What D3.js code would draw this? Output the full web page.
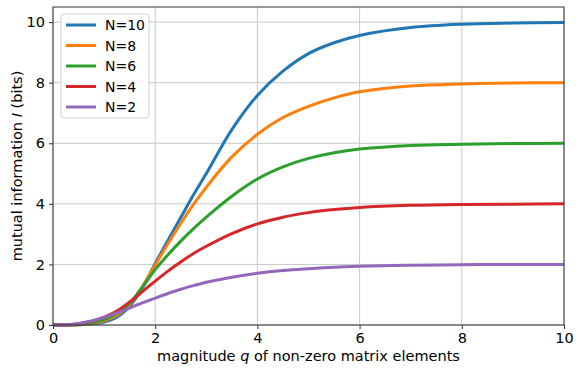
<!DOCTYPE html>
<html lang="en">
<head>
<meta charset="utf-8">
<title>Mutual information vs magnitude q</title>
<script src="https://cdn.jsdelivr.net/npm/d3@7"></script>
<style>
  body { margin: 0; background: #fff; }
  text { font-family: "DejaVu Sans", sans-serif; }
</style>
</head>
<body>
<script>
// values
var qValues = [0, 0.25, 0.5, 0.75, 1, 1.25, 1.5, 1.75, 2, 2.25, 2.5, 2.75, 3, 3.5, 4, 4.5, 5, 5.5, 6, 7, 8, 9, 10];
var seriesNames = ["N=10", "N=8", "N=6", "N=4", "N=2"];
var infoN10 = [0, 0.001, 0.005, 0.03, 0.1, 0.26, 0.62, 1.22, 2.03, 2.8, 3.55, 4.3, 5.0, 6.45, 7.58, 8.38, 8.96, 9.32, 9.56, 9.82, 9.93, 9.97, 9.99];
var infoN8  = [0, 0.001, 0.008, 0.045, 0.14, 0.32, 0.68, 1.28, 1.98, 2.68, 3.35, 3.98, 4.55, 5.55, 6.3, 6.85, 7.22, 7.5, 7.7, 7.89, 7.96, 7.99, 8.0];
var infoN6  = [0, 0.002, 0.015, 0.07, 0.18, 0.38, 0.72, 1.25, 1.83, 2.32, 2.77, 3.18, 3.56, 4.25, 4.82, 5.22, 5.5, 5.69, 5.81, 5.93, 5.97, 5.99, 6.0];
var infoN4  = [0, 0.004, 0.04, 0.12, 0.26, 0.46, 0.76, 1.1, 1.45, 1.78, 2.08, 2.36, 2.6, 3.02, 3.34, 3.56, 3.71, 3.81, 3.88, 3.95, 3.98, 3.99, 4.0];
var infoN2  = [0, 0.006, 0.05, 0.13, 0.25, 0.4, 0.56, 0.73, 0.89, 1.04, 1.18, 1.3, 1.41, 1.58, 1.71, 1.8, 1.86, 1.91, 1.94, 1.97, 1.99, 2.0, 2.0];
var xTicks = [0, 2, 4, 6, 8, 10];
var yTicks = [0, 2, 4, 6, 8, 10];

var w = 582;
var h = 375;
var margin = {top: 7, right: 18, bottom: 50, left: 53};

var colors = ["#1f77b4", "#ff7f0e", "#2ca02c", "#d62728", "#9467bd"];
var allSeries = [infoN10, infoN8, infoN6, infoN4, infoN2];

var svg = d3.select('body')
            .append('svg')
            .attr('width', w)
            .attr('height', h);

var x = d3.scaleLinear()
          .domain([0, 10])
          .range([margin.left, w - margin.right]);

var y = d3.scaleLinear()
          .domain([0, 10.5])
          .range([h - margin.bottom, margin.top]);

// grid
svg.append('g')
   .selectAll('line')
   .data(xTicks)
   .enter()
   .append('line')
   .attr('x1', function(d) { return x(d); })
   .attr('x2', function(d) { return x(d); })
   .attr('y1', y(0))
   .attr('y2', y(10.5))
   .attr('stroke', '#c8c8c8')
   .attr('stroke-width', 1);

svg.append('g')
   .selectAll('line')
   .data(yTicks)
   .enter()
   .append('line')
   .attr('x1', x(0))
   .attr('x2', x(10))
   .attr('y1', function(d) { return y(d); })
   .attr('y2', function(d) { return y(d); })
   .attr('stroke', '#c8c8c8')
   .attr('stroke-width', 1);

// curves
var line = d3.line()
             .x(function(d) { return x(d[0]); })
             .y(function(d) { return y(d[1]); })
             .curve(d3.curveCatmullRom.alpha(0.5));

var plot = svg.append('g');
allSeries.forEach(function(vals, i) {
    var pts = qValues.map(function(q, j) { return [q, vals[j]]; });
    plot.append('path')
        .datum(pts)
        .attr('d', line)
        .attr('fill', 'none')
        .attr('stroke', colors[i])
        .attr('stroke-width', 3)
        .attr('stroke-linejoin', 'round');
});

// axes
var xAxis = d3.axisBottom(x).tickValues(xTicks).tickSize(4).tickPadding(4).tickFormat(d3.format('d'));
var yAxis = d3.axisLeft(y).tickValues(yTicks).tickSize(4).tickPadding(4).tickFormat(d3.format('d'));

var gx = svg.append('g')
            .attr('transform', 'translate(0,' + y(0) + ')')
            .call(xAxis);
var gy = svg.append('g')
            .attr('transform', 'translate(' + x(0) + ',0)')
            .call(yAxis);

[gx, gy].forEach(function(g) {
    g.select('.domain').remove();
    g.selectAll('line').attr('stroke', '#333');
    g.selectAll('text')
     .attr('fill', '#000')
     .style('font-size', '14.5px')
     .style('font-family', '"DejaVu Sans", sans-serif');
});

// frame
svg.append('rect')
   .attr('x', x(0))
   .attr('y', y(10.5))
   .attr('width', x(10) - x(0))
   .attr('height', y(0) - y(10.5))
   .attr('fill', 'none')
   .attr('stroke', '#333')
   .attr('stroke-width', 1);

// axis labels
var xl = svg.append('text')
            .attr('x', (x(0) + x(10)) / 2)
            .attr('y', 361)
            .attr('text-anchor', 'middle')
            .style('font-size', '14.5px');
xl.append('tspan').text('magnitude ');
xl.append('tspan').style('font-style', 'italic').text('q');
xl.append('tspan').text(' of non-zero matrix elements');

var yl = svg.append('text')
            .attr('transform', 'translate(22,' + (y(0) + y(10.5)) / 2 + ') rotate(-90)')
            .attr('text-anchor', 'middle')
            .style('font-size', '14.5px');
yl.append('tspan').text('mutual information ');
yl.append('tspan').style('font-style', 'italic').text('I');
yl.append('tspan').text(' (bits)');

// legend
var legend = svg.append('g').attr('transform', 'translate(61,14)');
legend.append('rect')
      .attr('width', 88)
      .attr('height', 104)
      .attr('rx', 3)
      .attr('fill', '#fff')
      .attr('fill-opacity', 0.85)
      .attr('stroke', '#d0d0d0');

seriesNames.forEach(function(name, i) {
    var row = legend.append('g').attr('transform', 'translate(0,' + (11 + i * 20.5) + ')');
    row.append('line')
       .attr('x1', 5)
       .attr('x2', 35)
       .attr('stroke', colors[i])
       .attr('stroke-width', 3);
    row.append('text')
       .attr('x', 44)
       .attr('y', 5)
       .style('font-size', '14px')
       .text(name);
});
</script>
</body>
</html>
